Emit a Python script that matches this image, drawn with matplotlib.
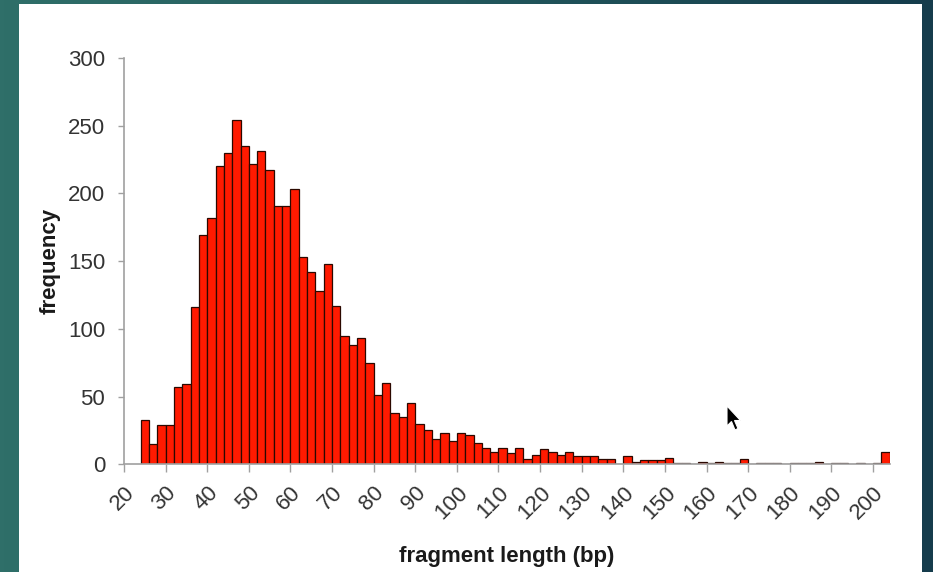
import numpy as np
import matplotlib
matplotlib.use("Agg")
import matplotlib.pyplot as plt
from matplotlib.patches import Rectangle, Polygon
from matplotlib.transforms import IdentityTransform

plt.rcParams['font.family'] = ['Liberation Sans', 'DejaVu Sans']

# histogram of fragment lengths, 2 bp bins starting at 24
bin_start = 24
bin_width = 2
counts = [33, 15, 29, 29, 57, 59, 116, 169, 182, 220, 230, 254, 235, 222, 231,
          217, 191, 191, 203, 153, 142, 128, 148, 117, 95, 88, 93, 75, 51, 60,
          38, 35, 45,
          30, 25, 19, 23, 17, 23, 22, 16, 12, 9, 12, 8, 12, 4, 7, 11, 9, 7, 9,
          6, 6, 6, 4, 4,
          0, 6, 2, 3, 3, 3, 5, 1, 1, 0, 2, 1, 2, 1, 1, 4, 0, 1, 1, 1, 0, 1, 1,
          1, 2, 0, 1, 1, 0, 1, 0, 1, 9]
x_ticks = list(range(20, 201, 10))
y_ticks = [0, 50, 100, 150, 200, 250, 300]

W, H = 933, 572
fig = plt.figure(figsize=(W / 100, H / 100), dpi=100)

# slide background: teal gradient with white panel
bg = fig.add_axes([0, 0, 1, 1], zorder=-10)
grad = np.linspace(0, 1, 256)[None, :]
cmap = matplotlib.colors.LinearSegmentedColormap.from_list(
    "bg", ["#2f6f69", "#22575c", "#153c4c"])
bg.imshow(grad, aspect='auto', cmap=cmap, extent=[0, W, 0, H])
bg.add_patch(Rectangle((19, 0), 922 - 19, H - 4, facecolor='white', edgecolor='none'))
bg.set_xlim(0, W)
bg.set_ylim(0, H)
bg.axis('off')

ax = fig.add_axes([124 / W, (H - 464.3) / H, (889.6 - 124) / W, (464.3 - 58) / H])
ax.patch.set_alpha(0)
edges = bin_start + bin_width * np.arange(len(counts))
ax.bar(edges, counts, width=bin_width, align='edge', color='#ff1a00',
       edgecolor='#2b0800', linewidth=0.9)

ax.set_xlim(20, 204)
ax.set_ylim(0, 300)
ax.set_xticks(x_ticks)
ax.set_yticks(y_ticks)
for s in ['top', 'right']:
    ax.spines[s].set_visible(False)
for s in ['left', 'bottom']:
    ax.spines[s].set_color('#a0a0a0')
    ax.spines[s].set_linewidth(1.2)
ax.tick_params(axis='x', direction='out', length=6, width=1, color='#a0a0a0',
               labelsize=16, labelcolor='#333333', pad=7)
ax.tick_params(axis='y', direction='out', length=4.5, width=1, color='#a0a0a0',
               labelsize=16, labelcolor='#333333', pad=9)
plt.setp(ax.get_xticklabels(), rotation=45, ha='right', rotation_mode='anchor')

ax.set_xlabel('fragment length (bp)', fontsize=16, fontweight='bold',
              color='#1a1a1a', labelpad=16)
ax.set_ylabel('frequency', fontsize=16, fontweight='bold', color='#1a1a1a',
              labelpad=5)

# mouse cursor from the screenshot (display pixels)
cx, cy = 727, H - 406
cursor = [(0, 0), (0, -20), (4.5, -15.5), (8, -24), (11, -22.5), (7.5, -14.5),
          (13.5, -14.5)]
fig.patches.append(Polygon([(cx + a, cy + b) for a, b in cursor], closed=True,
                           facecolor='black', edgecolor='white', linewidth=0.8,
                           transform=IdentityTransform(), figure=fig, zorder=20))

fig.savefig('out.png', dpi=100)
